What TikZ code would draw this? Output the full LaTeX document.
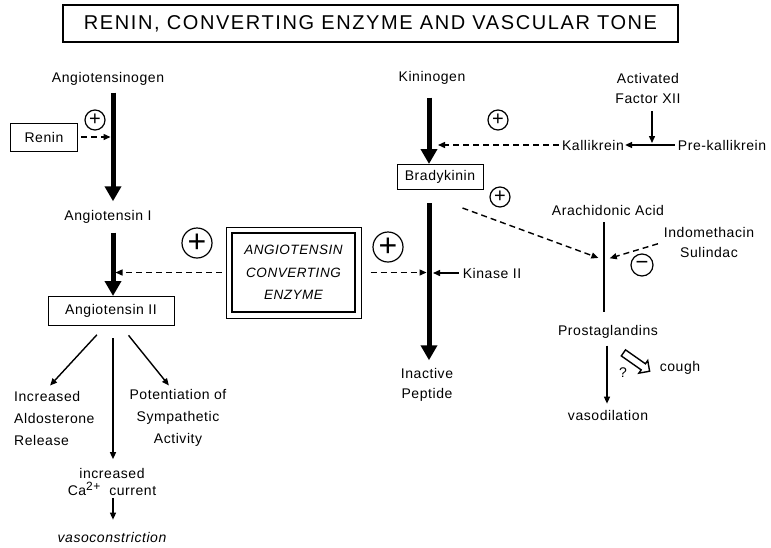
\documentclass[tikz,border=0pt]{standalone}
\usepackage{fontspec}
\setmainfont{Liberation Sans}[LetterSpace=4]
\newfontfamily\titlefont{Liberation Sans}[LetterSpace=8]
\usetikzlibrary{arrows.meta,shapes.arrows}

\begin{document}
\begin{tikzpicture}[x=1pt,y=-1pt,font=\fontsize{14}{20}\selectfont]

\tikzset{lbl/.style={align=center,inner sep=0pt},
  box/.style={draw,line width=1pt,inner sep=0pt},
  big/.style={line width=5pt,-{Triangle[length=15pt,width=16pt]}},
  thin/.style={line width=1.4pt,-{Triangle[length=7pt,width=6pt]}},
  dsh/.style={thin,dash pattern=on 6pt off 4pt},
  sgn/.style={circle,draw,line width=1.2pt,inner sep=0pt,minimum size=#1}}
  \useasboundingbox (0,0) rectangle (771,547);

  \node[box,line width=1.2pt,minimum width=615pt,minimum height=37pt,font=\titlefont\fontsize{20}{22}\selectfont] (title) at (370.5,23.5) {RENIN, CONVERTING ENZYME AND VASCULAR TONE};

  % renin - angiotensin
  \coordinate (lax) at (113,0);
  \node[lbl] (agen) at (108,79) {Angiotensinogen};
  \node[box,minimum width=67pt,minimum height=28pt] (renin) at (44,137) {Renin};
  \node[sgn=20pt,font=\fontsize{20}{20}\selectfont] (p1) at (95,120) {+};
  \node[lbl] (ang1) at (108,217) {Angiotensin I};
  \node[box,minimum width=126pt,minimum height=29pt] (ang2) at (111,311) {Angiotensin II};

  \draw[big,shorten <=7pt,shorten >=9pt] (agen.south -| lax) -- (ang1.north -| lax);
  \draw[dsh,shorten <=3pt,shorten >=2.5pt] (renin.east) -- (renin.east -| lax);
  \draw[big,shorten <=9pt] (ang1.south -| lax) -- (ang2.north -| lax);

  % converting enzyme
  \node[draw,line width=1.8pt,minimum width=123pt,minimum height=79pt,align=center,font=\itshape\fontsize{13.5}{22.5}\selectfont] (ace) at (293.5,272.5) {ANGIOTENSIN\\CONVERTING\\ENZYME};
  \node[draw,line width=1pt,minimum width=135pt,minimum height=91pt] (aceo) at (ace) {};
  \node[sgn=30pt,font=\fontsize{32}{32}\selectfont] (p2) at (197,243) {+};
  \node[sgn=30pt,font=\fontsize{32}{32}\selectfont] (p3) at (388,247) {+};
  \draw[dsh,shorten <=4pt,shorten >=2.5pt] (aceo.west) -- (aceo.west -| lax);

  % kinin side
  \coordinate (rax) at (429,0);
  \node[lbl] (kgen) at (432,78) {Kininogen};
  \node[box,minimum width=86pt,minimum height=25pt] (brady) at (440,177) {Bradykinin};
  \node[sgn=20pt,font=\fontsize{20}{20}\selectfont] (p4) at (498,120) {+};
  \node[sgn=20pt,font=\fontsize{20}{20}\selectfont] (p5) at (500,197) {+};
  \node[lbl] (kall) at (593,145) {Kallikrein};
  \node[lbl] (prek) at (722,145) {Pre-kallikrein};
  \node[lbl] (fxii) at (648,88) {Activated\\Factor XII};
  \coordinate (fx) at (652,145);
  \node[lbl] (inact) at (427,385) {Inactive\\Peptide};
  \node[lbl] (kin) at (492,273) {Kinase II};

  \draw[big,shorten <=13pt] (kgen.south -| rax) -- (brady.north -| rax);
  \draw[dsh,shorten <=3pt,shorten >=9pt] (kall.west) -- (kall.west -| rax);
  \draw[thin,shorten <=3pt,shorten >=1pt] (prek.west) -- (kall.east);
  \draw[thin,shorten <=8pt,shorten >=2pt] (fxii.south -| fx) -- (fx);
  \draw[big,shorten <=13pt,shorten >=8pt] (brady.south -| rax) -- (inact.north -| rax);
  \draw[thin,shorten <=4pt,shorten >=4pt] (kin.west) -- (kin.west -| rax);
  \draw[dsh,shorten <=9pt,shorten >=2.5pt] (aceo.east) -- (aceo.east -| rax);

  % prostaglandins
  \coordinate (pax) at (604,0);
  \coordinate (pg) at (604,260);
  \node[lbl] (arach) at (608,210) {Arachidonic Acid};
  \node[lbl] (prost) at (608,332) {Prostaglandins};
  \node[lbl] (indo) at (709,242) {Indomethacin\\Sulindac};
  \node[sgn=22pt,font=\fontsize{22}{22}\selectfont] (m1) at (642,265) {−};
  \node[lbl] (vaso) at (608,415) {vasodilation};
  \node[single arrow,draw,line width=1.4pt,inner sep=3pt,single arrow head extend=4pt,minimum height=32pt,rotate=-35] (holl) at (635,361) {};
  \node[lbl] (q) at (623,373) {?};
  \node[lbl] (cough) at (680,368) {cough};

  \draw[line width=1.5pt,shorten <=7pt,shorten >=13pt] (arach.south -| pax) -- (prost.north -| pax);
  \draw[dsh,shorten >=6pt] ([xshift=-21pt,yshift=-18pt]brady.south east) -- (pg);
  \draw[dsh,shorten <=6pt,shorten >=6pt] (indo.west) -- (pg);
  \draw[thin,shorten <=7pt,shorten >=6pt] (prost.south -| 607,0) -- (vaso.north -| 607,0);

  % effects of angiotensin II
  \node[lbl,align=left,anchor=west,font=\fontsize{14}{22}\selectfont] (aldo) at (14,418) {Increased\\Aldosterone\\Release};
  \node[lbl,font=\fontsize{14}{22}\selectfont] (symp) at (178,418) {Potentiation of\\Sympathetic\\Activity};
  \node[lbl,font=\fontsize{14}{17}\selectfont] (ca) at (112,482) {increased\\Ca\raisebox{5pt}{\fontsize{12}{12}\selectfont 2+}\ \ current};
  \node[lbl,font=\itshape\fontsize{14}{15}\selectfont] (vcon) at (112,537) {vasoconstriction};

  \draw[thin,shorten <=12pt,shorten >=7pt] ([xshift=-6pt]ang2.south) -- ([xshift=-9pt]aldo.north);
  \draw[thin,shorten <=12pt,shorten >=9pt] (ang2.south -| lax) -- (ca.north -| lax);
  \draw[thin,shorten <=12pt,shorten >=5pt] ([xshift=10pt]ang2.south) -- ([xshift=-6pt]symp.north);
  \draw[thin,shorten <=2pt,shorten >=12pt] (ca.south -| lax) -- (vcon.north -| lax);

\end{tikzpicture}
\end{document}
